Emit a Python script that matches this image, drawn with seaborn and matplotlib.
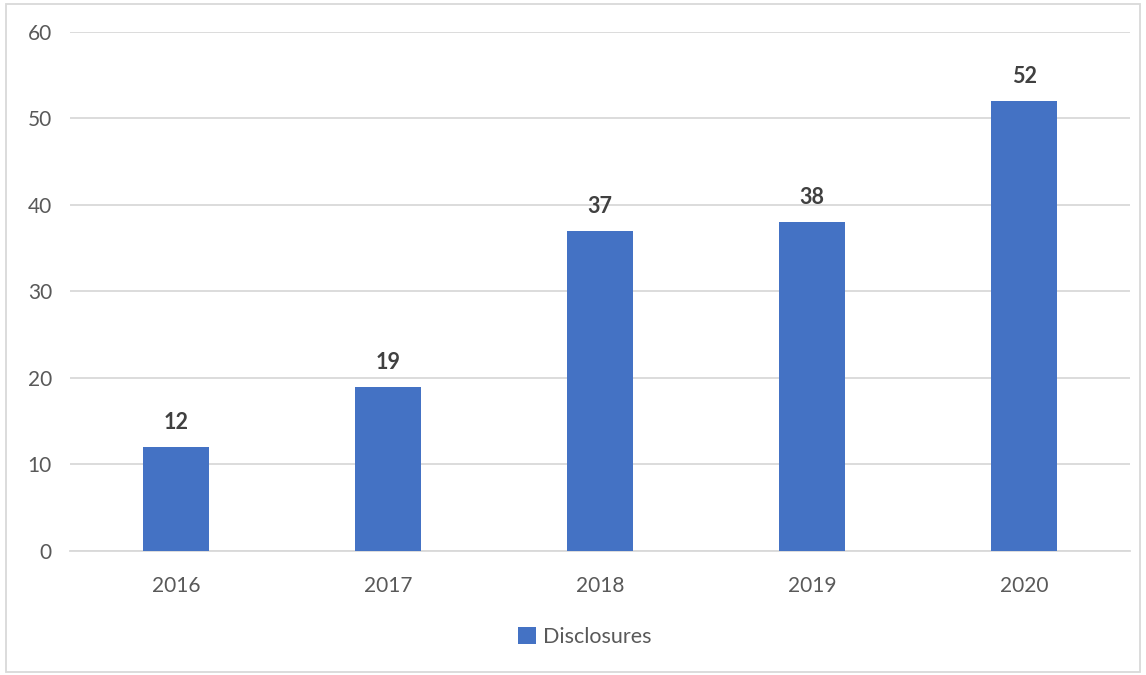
import matplotlib
matplotlib.use("Agg")
import matplotlib.pyplot as plt
import seaborn as sns
import pandas as pd
from matplotlib.patches import Rectangle

years = ["2016", "2017", "2018", "2019", "2020"]
disclosures = [12, 19, 37, 38, 52]
yticks = [0, 10, 20, 30, 40, 50, 60]

sns.set_theme(style="white")
plt.rcParams['font.family'] = ['Lato', 'DejaVu Sans']

df = pd.DataFrame({"Year": years, "Disclosures": disclosures})

fig = plt.figure(figsize=(11.46, 6.75), dpi=100)
ax = fig.add_axes([0.0611, 0.1837, 0.925, 0.769])

sns.barplot(data=df, x="Year", y="Disclosures", color="#4472C4", width=0.31,
            saturation=1, ax=ax, zorder=3, label="Disclosures", linewidth=0,
            edgecolor="none")

ax.set_ylim(0, 60)
ax.set_xlim(-0.5, 4.5)
ax.set_yticks(yticks)
ax.set_yticklabels([str(v) for v in yticks])
ax.yaxis.grid(True, color="#D9D9D9", linewidth=1.3, zorder=0)
ax.xaxis.grid(False)
for s in ["top", "right", "left"]:
    ax.spines[s].set_visible(False)
ax.spines["bottom"].set_color("#D9D9D9")
ax.spines["bottom"].set_linewidth(1.3)
ax.tick_params(axis="both", length=0, labelsize=15, labelcolor="#595959")
ax.tick_params(axis="y", pad=13)
ax.tick_params(axis="x", pad=18)
ax.set_xlabel("")
ax.set_ylabel("")

for c in ax.containers:
    ax.bar_label(c, labels=[str(v) for v in disclosures], padding=10,
                 fontsize=15.5, fontweight="bold", color="#404040")

leg = ax.legend(loc="center", bbox_to_anchor=(0.51, 0.056), bbox_transform=fig.transFigure,
                frameon=False, fontsize=15.5, handlelength=0.85, handleheight=0.85,
                handletextpad=0.3)
for t in leg.get_texts():
    t.set_color("#595959")

fig.patches.append(Rectangle((0.005, 0.004), 0.99, 0.99, transform=fig.transFigure,
                             fill=False, edgecolor="#D9D9D9", linewidth=1.3))

fig.savefig("out.png", dpi=100)
